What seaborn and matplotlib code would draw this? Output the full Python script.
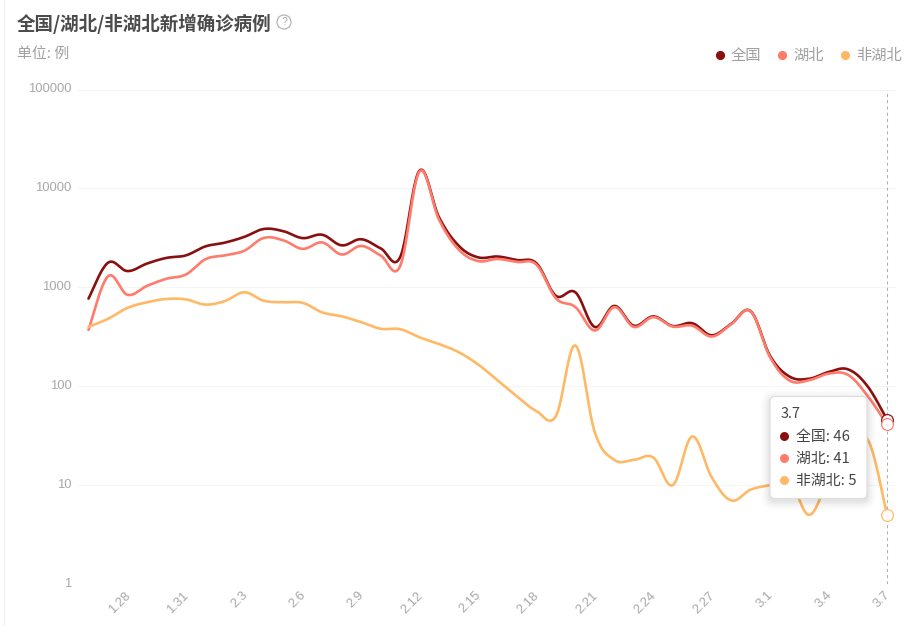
import numpy as np
import pandas as pd
import matplotlib
matplotlib.use("Agg")
import matplotlib.pyplot as plt
from matplotlib.lines import Line2D
from matplotlib.patches import FancyBboxPatch, Circle
from matplotlib.transforms import Affine2D, ScaledTranslation
from matplotlib.ticker import NullLocator
import seaborn as sns

dates = ["1.26","1.27","1.28","1.29","1.30","1.31","2.1","2.2","2.3","2.4","2.5","2.6","2.7","2.8",
         "2.9","2.10","2.11","2.12","2.13","2.14","2.15","2.16","2.17","2.18","2.19","2.20","2.21",
         "2.22","2.23","2.24","2.25","2.26","2.27","2.28","2.29","3.1","3.2","3.3","3.4","3.5","3.6","3.7"]
national = [769,1771,1459,1737,1982,2102,2590,2829,3235,3887,3694,3143,3399,2656,
            3062,2478,2015,15152,5090,2641,2009,2048,1886,1749,820,889,397,
            648,409,508,406,433,327,427,573,202,125,119,139,148,100,46]
hubei = [371,1291,840,1032,1220,1347,1921,2103,2345,3156,2987,2447,2841,2147,
         2618,2097,1638,14840,4823,2420,1843,1933,1807,1693,775,631,366,
         630,398,499,401,409,318,423,570,196,114,115,134,130,80,41]
non_hubei = [398,480,619,705,762,755,669,726,890,731,707,696,558,509,
             444,381,377,312,267,221,166,115,79,56,50,258,34,
             18,18,19,10,31,12,7,9,10,11,5,11,17,29,5]
series_names = ["全国","湖北","非湖北"]
series_colors = ["#8a0f10","#ff7b6b","#ffb966"]
tip_values = [46,41,5]

W, H = 915, 626
L, R, T, B = 78, 896, 89.5, 584
PX_X = (887-88.5)/41
PX_Y = (B-T)/5

CJK = ["Noto Sans CJK SC","DejaVu Sans"]
sns.set_theme(style="white")
plt.rcParams["font.family"] = CJK


def smooth_curve(values, k=0.18, n=24):
    """Cardinal spline through the daily values, in log space."""
    y = np.log10(np.asarray(values, float))
    N = len(y)
    t = np.linspace(0, 1, n, endpoint=False)
    xs, ys = [], []
    for i in range(N-1):
        a, b = max(i-1, 0), min(i+2, N-1)
        c1x = i + k*(i+1-a); c1y = y[i] + k*(y[i+1]-y[a])
        c2x = i+1 - k*(b-i); c2y = y[i+1] - k*(y[b]-y[i])
        xs.append((1-t)**3*i + 3*(1-t)**2*t*c1x + 3*(1-t)*t**2*c2x + t**3*(i+1))
        ys.append((1-t)**3*y[i] + 3*(1-t)**2*t*c1y + 3*(1-t)*t**2*c2y + t**3*y[i+1])
    xs.append([N-1]); ys.append([y[-1]])
    return np.concatenate(xs), 10**np.concatenate(ys)


frames = []
for name, vals in zip(series_names, [national, hubei, non_hubei]):
    sx, sy = smooth_curve(vals)
    frames.append(pd.DataFrame({"x": sx, "y": sy, "series": name}))
df = pd.concat(frames, ignore_index=True)

fig = plt.figure(figsize=(W/100, H/100), dpi=100, facecolor="white")
ax = fig.add_axes([L/W, 1-B/H, (R-L)/W, (B-T)/H])
ax.set_facecolor("white")

sns.lineplot(data=df, x="x", y="y", hue="series", hue_order=series_names,
             palette=dict(zip(series_names, series_colors)), estimator=None, sort=False,
             units="series", linewidth=1.9, legend=False, ax=ax, zorder=3)

ax.set_yscale("log")
ax.set_ylim(1, 100000)
ax.set_xlim(-(88.5-L)/PX_X, 41+(R-887)/PX_X)
ax.set_xlabel(""); ax.set_ylabel("")
ax.set_yticks([1,10,100,1000,10000,100000])
ax.set_yticklabels(["1","10","100","1000","10000","100000"],
                   family=["Liberation Sans"], fontsize=9.4, color="#a8a8a8")
ax.yaxis.set_minor_locator(NullLocator())
idx = list(range(2, 42, 3))
ax.set_xticks(idx)
ax.set_xticklabels([dates[i] for i in idx], rotation=45, ha="right", rotation_mode="anchor",
                   family=["Liberation Sans"], fontsize=9.4, color="#a8a8a8")
ax.tick_params(axis="both", length=0)
ax.tick_params(axis="y", pad=4.8)
ax.tick_params(axis="x", pad=6)
for lab in ax.get_yticklabels():
    lab.set_transform(lab.get_transform() + ScaledTranslation(0, 1.5/100, fig.dpi_scale_trans))
for lab in ax.get_xticklabels():
    lab.set_transform(lab.get_transform() + ScaledTranslation(-3/100, 3/100, fig.dpi_scale_trans))
ax.grid(False)
ax.grid(True, axis="y", color="#f5f5f5", linewidth=0.75)
for s in ax.spines.values():
    s.set_visible(False)
ax.axvline(41, color="#b0b0b0", linewidth=0.75, linestyle=(0, (3, 3)), zorder=2)

for val, col in zip(tip_values, series_colors):
    ax.plot([41], [val], marker="o", ms=8.5, mfc="white", mec=col, mew=0.9,
            clip_on=False, zorder=4, alpha=0.95)

px = Affine2D().scale(1, -1).translate(0, H)

def ftext(x, y, s, **kw):
    return fig.text(x/W, 1-y/H, s, **kw)

# card edge on the left
fig.add_artist(Line2D([3.5, 3.5], [0, H], transform=px, color="#efefef", linewidth=0.75, zorder=1))

# header
ftext(17, 24, "全国/湖北/非湖北新增确诊病例", fontsize=13.3, fontweight="bold", color="#4b4b4b",
      va="center", ha="left", family=CJK)
fig.add_artist(Circle((284, 22), 7, transform=px, fc="none", ec="#b5b5b5", lw=0.9))
ftext(284, 22, "?", fontsize=7.5, color="#a8a8a8", va="center", ha="center", family=["Liberation Sans"])
ftext(17, 53.5, "单位: 例", fontsize=10.7, color="#a0a0a0", va="center", ha="left", family=CJK)

# legend
handles = [Line2D([], [], linestyle="none", marker="o", ms=5.6, mfc=c, mec=c, label=n)
           for n, c in zip(series_names, series_colors)]
leg = ax.legend(handles=handles, ncol=3, frameon=False, loc="center right",
                bbox_to_anchor=(901.5/W, 1-55.5/H), bbox_transform=fig.transFigure,
                fontsize=11, labelcolor="#a0a0a0", columnspacing=0.9, handletextpad=0.2,
                handlelength=1.0, borderpad=0, borderaxespad=0)

# tooltip
for grow, a in [(9, .012), (7, .015), (5, .02), (3, .025), (1.5, .03)]:
    fig.add_artist(FancyBboxPatch((770-grow, 396-grow+3), 97+2*grow, 102+2*grow,
                                  boxstyle="round,pad=0,rounding_size=%g" % (5+grow), transform=px,
                                  fc="black", ec="none", alpha=a, zorder=5))
fig.add_artist(FancyBboxPatch((770, 396.5), 97, 102, boxstyle="round,pad=0,rounding_size=5",
                              transform=px, fc="white", ec="#dcdcdc", lw=0.75, zorder=6))
ftext(781, 414.5, dates[-1], fontsize=10.4, color="#444444", va="center", ha="left", family=CJK, zorder=7)
for y, n, v, c in zip([436.5, 458.5, 480.5], series_names, tip_values, series_colors):
    fig.add_artist(Circle((784.5, y), 4.5, transform=px, fc=c, ec="none", zorder=7))
    ftext(795.5, y, f"{n}: {v}", fontsize=10.7, color="#444444", va="center", ha="left", family=CJK, zorder=7)

fig.savefig("out.png", dpi=100, facecolor="white")
